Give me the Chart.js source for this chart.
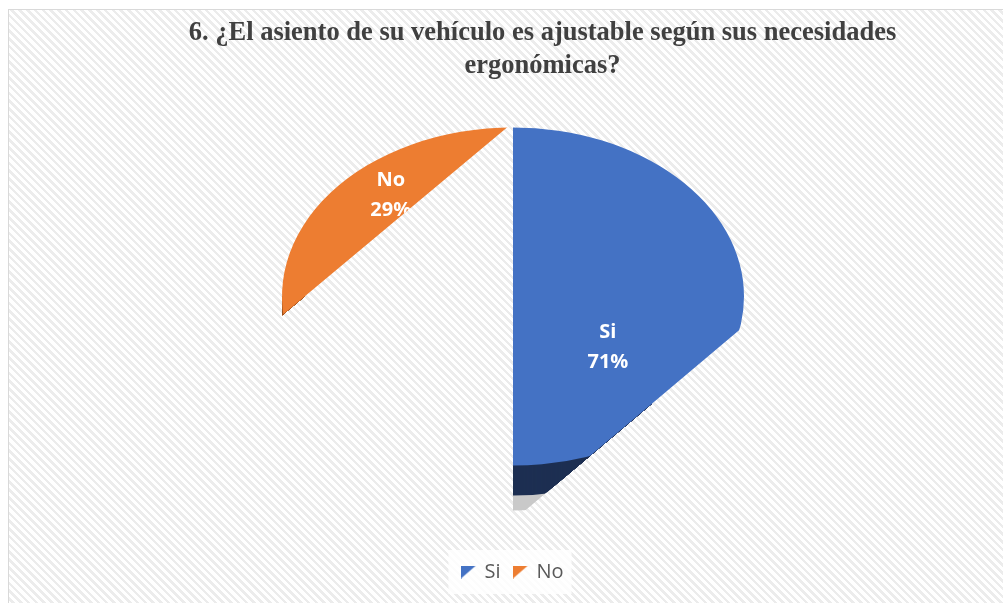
<!DOCTYPE html>
<html lang="es">
<head>
    <meta charset="UTF-8">
    <title>Asiento ajustable</title>
    <script src="https://cdn.jsdelivr.net/npm/chart.js"></script>
    <style>
        html, body {
            margin: 0;
            padding: 0;
            background: #ffffff;
        }
        body {
            width: 1003px;
            height: 603px;
            overflow: hidden;
            position: relative;
        }
        .frame {
            position: absolute;
            left: 8px;
            top: 9px;
            width: 1010px;
            height: 610px;
            border: 1px solid #d9d9d9;
            background: repeating-linear-gradient(45deg, #ffffff 0 3px, #ececec 3px 5.5px);
        }
        #chart {
            position: absolute;
            left: 0;
            top: 0;
        }
    </style>
</head>
<body>

<div class="frame"></div>
<canvas id="chart" width="1003" height="603"></canvas>

<script>
    // data
    const categories = ['Si', 'No'];
    const percents = [71, 29];
    const sliceColors = ['#4472C4', '#ED7D31'];
    const sideColors = ['#1d2f52', '#9c4f1a'];
    const titleLines = ['6. ¿El asiento de su vehículo es ajustable según sus necesidades', 'ergonómicas?'];

    const tilt = 0.732;      // vertical squash of the pie face
    const depth = 30;        // side wall height
    const shadowDrop = 45;   // grey floor shadow

    // little corner triangles used as legend markers
    function cornerMarker(color) {
        const c = document.createElement('canvas');
        c.width = 15;
        c.height = 13;
        const g = c.getContext('2d');
        g.fillStyle = color;
        g.beginPath();
        g.moveTo(0, 13);
        g.lineTo(15, 0);
        g.lineTo(0, 0);
        g.closePath();
        g.fill();
        return c;
    }
    const markers = sliceColors.map(cornerMarker);

    function pieFrame(chart) {
        const arc = chart.getDatasetMeta(0).data[0];
        return { cx: arc.x, cy: arc.y, r: arc.outerRadius };
    }

    // the broken render only shows part of the pie: cut along two slanted edges
    function cutPath(ctx, chart) {
        const { cx, cy, r } = pieFrame(chart);
        const ry = r * tilt;
        const W = chart.width;
        const a = { x: cx - 6, y: cy - ry };
        const b = { x: cx + r - 4, y: cy + 33 };
        const s1 = -0.835, s2 = -0.843;
        ctx.beginPath();
        ctx.moveTo(0, 0);
        ctx.lineTo(W, 0);
        ctx.lineTo(W, b.y + s2 * (W - b.x));
        ctx.lineTo(cx, b.y + s2 * (cx - b.x));
        ctx.lineTo(cx, a.y + s1 * (cx - a.x));
        ctx.lineTo(0, a.y + s1 * (0 - a.x));
        ctx.closePath();
        ctx.clip();
    }

    function squash(ctx, cx, cy, dy) {
        ctx.translate(cx, cy + dy);
        ctx.scale(1, tilt);
        ctx.translate(-cx, -cy);
    }

    function fillSlice(ctx, el) {
        ctx.beginPath();
        ctx.moveTo(el.x, el.y);
        ctx.arc(el.x, el.y, el.outerRadius, el.startAngle, el.endAngle);
        ctx.closePath();
        ctx.fill();
    }

    const tiltedPie = {
        id: 'tiltedPie',
        beforeDraw(chart) {
            // soft white plate behind the legend
            const boxes = chart.legend && chart.legend.legendHitBoxes;
            if (!boxes || !boxes.length) return;
            const ctx = chart.ctx;
            const l = Math.min(...boxes.map(b => b.left)) - 14;
            const r = Math.max(...boxes.map(b => b.left + b.width)) + 8;
            const t = Math.min(...boxes.map(b => b.top)) - 12;
            const btm = Math.max(...boxes.map(b => b.top + b.height)) + 12;
            ctx.save();
            ctx.fillStyle = 'rgba(255,255,255,0.85)';
            ctx.fillRect(l, t, r - l, btm - t);
            ctx.restore();
        },
        beforeDatasetsDraw(chart) {
            const ctx = chart.ctx;
            const meta = chart.getDatasetMeta(0);
            const { cx, cy, r } = pieFrame(chart);
            ctx.save();
            cutPath(ctx, chart);

            // side wall and shadow only show at the front
            ctx.save();
            ctx.beginPath();
            ctx.rect(0, cy, cx + r * 0.6, chart.height - cy);
            ctx.clip();

            ctx.save();
            squash(ctx, cx, cy, shadowDrop);
            ctx.fillStyle = '#c9c9c9';
            meta.data.forEach(el => fillSlice(ctx, el));
            ctx.restore();

            for (let d = depth; d > 0; d--) {
                ctx.save();
                squash(ctx, cx, cy, d);
                meta.data.forEach((el, i) => {
                    ctx.fillStyle = sideColors[i];
                    fillSlice(ctx, el);
                });
                ctx.restore();
            }
            ctx.restore();

            // the faces themselves are drawn by chart.js under this transform
            squash(ctx, cx, cy, 0);
        },
        afterDatasetsDraw(chart, args, opts) {
            const ctx = chart.ctx;
            ctx.restore();

            const meta = chart.getDatasetMeta(0);
            const { cx, cy } = pieFrame(chart);
            ctx.save();
            cutPath(ctx, chart);
            ctx.fillStyle = '#ffffff';
            ctx.font = 'bold 20px "Open Sans"';
            ctx.textAlign = 'center';
            ctx.textBaseline = 'middle';
            meta.data.forEach((el, i) => {
                const spot = opts.spots[i];
                const mid = (el.startAngle + el.endAngle) / 2;
                const x = cx + spot.f * el.outerRadius * Math.cos(mid) + spot.dx;
                const y = cy + spot.f * el.outerRadius * Math.sin(mid) * tilt + spot.dy;
                ctx.fillText(categories[i], x, y - 15);
                ctx.fillText(percents[i] + '%', x, y + 15);
            });
            ctx.restore();
        },
        afterDraw(chart) {
            const ctx = chart.ctx;
            ctx.save();
            ctx.fillStyle = '#404040';
            ctx.font = 'bold 26.5px "Liberation Serif"';
            ctx.textAlign = 'center';
            ctx.textBaseline = 'middle';
            titleLines.forEach((line, i) => {
                ctx.fillText(line, chart.width / 2 + 41, 33 + i * 33);
            });
            ctx.restore();
        }
    };

    new Chart(document.getElementById('chart'), {
        type: 'pie',
        data: {
            labels: categories,
            datasets: [{
                data: percents,
                backgroundColor: sliceColors,
                borderWidth: 0,
                radius: 231
            }]
        },
        options: {
            responsive: false,
            animation: false,
            events: [],
            layout: {
                padding: { left: 23, right: 0, top: 45, bottom: 11 }
            },
            plugins: {
                tooltip: { enabled: false },
                tiltedPie: {
                    spots: [
                        { f: 0.52, dx: 0, dy: -3 },
                        { f: 0.67, dx: 0, dy: -32 }
                    ]
                },
                legend: {
                    position: 'bottom',
                    labels: {
                        usePointStyle: true,
                        pointStyleWidth: 12,
                        padding: 14,
                        color: '#595959',
                        font: { family: 'Open Sans', size: 20 },
                        generateLabels() {
                            return categories.map((text, i) => ({
                                text: text,
                                fillStyle: sliceColors[i],
                                strokeStyle: sliceColors[i],
                                lineWidth: 0,
                                pointStyle: markers[i],
                                fontColor: '#595959',
                                hidden: false,
                                index: i
                            }));
                        }
                    }
                }
            }
        },
        plugins: [tiltedPie]
    });
</script>

</body>
</html>
